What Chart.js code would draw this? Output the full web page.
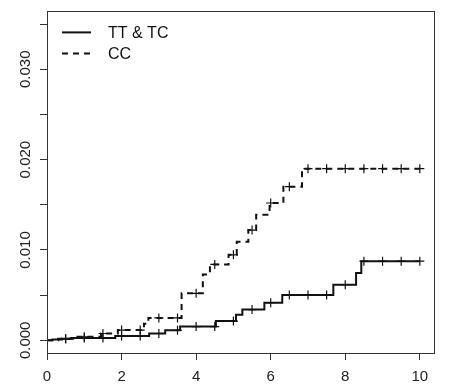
<!DOCTYPE html>
<html><head><meta charset="utf-8">
<script src="https://cdn.jsdelivr.net/npm/chart.js@4.4.0/dist/chart.umd.min.js"></script>
<style>html,body{margin:0;padding:0;background:#fff;}#wrap{position:relative;width:470px;height:388px;}canvas{display:block;}</style>
</head><body><div id="wrap"><canvas id="c" width="470" height="388" style="width:470px;height:388px"></canvas></div>
<script>
// ---- data ----
const seriesNames = ['TT & TC', 'CC'];
// step times (years) and cumulative incidence after each step
const ttTimes  = [0, 0.15, 0.4, 0.65, 1.83, 2.74, 3.17, 3.57, 4.53, 5.07, 5.24, 5.83, 6.31, 7.68, 8.29, 8.43, 10];
const ttValues = [0, 0.0001, 0.00018, 0.00025, 0.00047, 0.00076, 0.00112, 0.00152, 0.00213, 0.00282, 0.0034, 0.00416, 0.00503, 0.00616, 0.00746, 0.00876, 0.00876];
const ccTimes  = [0, 0.3, 0.7, 1.45, 1.9, 2.6, 2.72, 3.61, 4.18, 4.37, 4.87, 5.09, 5.4, 5.61, 5.97, 6.34, 6.84, 10];
const ccValues = [0, 0.00017, 0.00039, 0.00076, 0.00114, 0.00185, 0.00248, 0.0052, 0.0073, 0.0084, 0.00946, 0.0109, 0.0122, 0.0139, 0.0152, 0.017, 0.019, 0.019];
// censoring marks (+) times
const censorTimes = [0.5,1,1.5,2,2.5,3,3.5,4,4.5,5,5.5,6,6.5,7,7.5,8,8.5,9,9.5,10];
// axis ticks
const xTickValues = [0, 2, 4, 6, 8, 10];
const yTickValues = [0, 0.005, 0.01, 0.015, 0.02, 0.025, 0.03, 0.035];
const yLabelValues = [0, 0.01, 0.02, 0.03];
const yLabels = ['0.000', '0.010', '0.020', '0.030'];

function stepValueAt(times, values, t) {
  let v = values[0];
  for (let i = 0; i < times.length; i++) { if (times[i] <= t) v = values[i]; }
  return v;
}
const pts = (ts, vs) => ts.map((t, i) => ({x: t, y: vs[i]}));
const censorPts = (ts, vs) => censorTimes.map(t => ({x: t, y: stepValueAt(ts, vs, t)}));

const FONT = "'Liberation Sans', Arial, Helvetica, sans-serif";
const INK = '#111';

const boxAndLabels = {
  id: 'boxAndLabels',
  afterDraw(chart) {
    const {ctx, chartArea: a} = chart;
    const y = chart.scales.y;
    ctx.save();
    ctx.strokeStyle = '#333'; ctx.lineWidth = 1;
    ctx.strokeRect(Math.round(a.left) + 0.5, Math.round(a.top) + 0.5, Math.round(a.right - a.left), Math.round(a.bottom - a.top));
    ctx.fillStyle = '#222';
    ctx.font = '15px ' + FONT;
    ctx.textAlign = 'center'; ctx.textBaseline = 'middle';
    yLabelValues.forEach((v, i) => {
      ctx.save();
      ctx.translate(26, y.getPixelForValue(v));
      ctx.rotate(-Math.PI / 2);
      ctx.fillText(yLabels[i], 0, 0);
      ctx.restore();
    });
    // legend
    const ds = chart.data.datasets.filter(d => d.inLegend);
    ctx.font = '16px ' + FONT;
    ctx.textAlign = 'left';
    ds.forEach((d, i) => {
      const ly = a.top + 21 + i * 21;
      ctx.beginPath();
      ctx.strokeStyle = INK; ctx.lineWidth = 2;
      ctx.setLineDash(d.borderDash || []);
      ctx.moveTo(a.left + 15, ly); ctx.lineTo(a.left + 44, ly);
      ctx.stroke();
      ctx.setLineDash([]);
      ctx.fillStyle = INK;
      ctx.fillText(d.label, a.left + 61, ly + 1);
    });
    ctx.restore();
  }
};

new Chart(document.getElementById('c'), {
  type: 'line',
  data: {
    datasets: [
      {label: seriesNames[0], inLegend: true, data: pts(ttTimes, ttValues), stepped: 'before', borderColor: INK, borderWidth: 2, pointRadius: 0, fill: false},
      {label: seriesNames[1], inLegend: true, data: pts(ccTimes, ccValues), stepped: 'before', borderColor: INK, borderWidth: 2, borderDash: [6, 5], pointRadius: 0, fill: false},
      {label: 'censor1', data: censorPts(ttTimes, ttValues), showLine: false, pointStyle: 'cross', pointRadius: 4.5, borderColor: INK, pointBorderWidth: 1.2, backgroundColor: INK},
      {label: 'censor2', data: censorPts(ccTimes, ccValues), showLine: false, pointStyle: 'cross', pointRadius: 4.5, borderColor: INK, pointBorderWidth: 1.2, backgroundColor: INK}
    ]
  },
  options: {
    responsive: false,
    animation: false,
    devicePixelRatio: 1,
    layout: {padding: {top: 5, right: 36, left: 0, bottom: 0}},
    plugins: {legend: {display: false}, tooltip: {enabled: false}},
    scales: {
      x: {
        type: 'linear', min: 0, max: 10.38,
        afterBuildTicks: s => { s.ticks = xTickValues.map(v => ({value: v})); },
        afterFit: s => { s.height = 35; },
        grid: {drawOnChartArea: false, drawTicks: true, tickLength: 7, color: '#333'},
        border: {display: false},
        ticks: {font: {family: FONT, size: 15}, color: '#222', padding: 8, maxRotation: 0, autoSkip: false}
      },
      y: {
        type: 'linear', min: -0.0014, max: 0.0364,
        afterBuildTicks: s => { s.ticks = yTickValues.map(v => ({value: v})); },
        afterFit: s => { s.width = 47; },
        grid: {drawOnChartArea: false, drawTicks: true, tickLength: 7, color: '#333'},
        border: {display: false},
        ticks: {callback: () => '', font: {family: FONT, size: 14}}
      }
    }
  },
  plugins: [boxAndLabels]
});
</script>
</body></html>
